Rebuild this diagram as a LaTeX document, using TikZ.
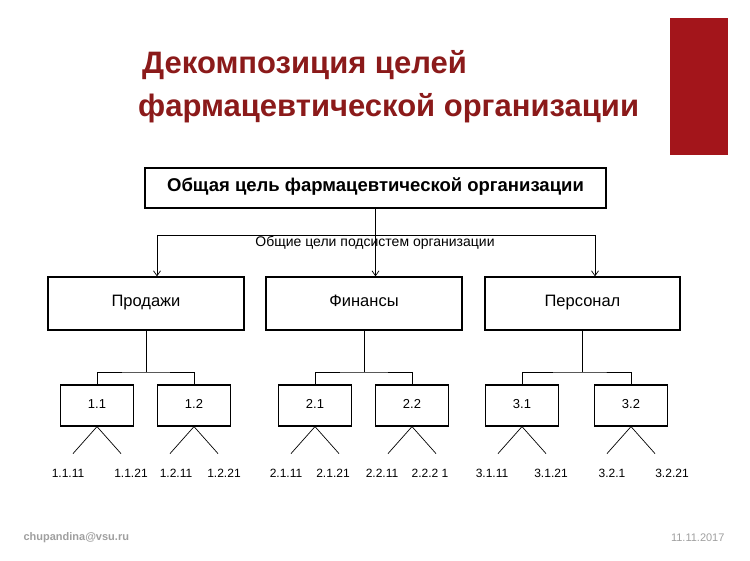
\documentclass[tikz,border=0pt]{standalone}
\usepackage{fontspec}
\setmainfont{Liberation Sans}
\usetikzlibrary{arrows.meta,calc}
\definecolor{dred}{HTML}{8B1A1A}
\definecolor{bred}{HTML}{A3151B}
\begin{document}
\begin{tikzpicture}[x=1pt,y=-1pt,
  box/.style={draw,line width=1.2pt,minimum width=#1,minimum height=0pt,inner sep=0pt,text height=1.5ex,text depth=0.25ex},
  ln/.style={line width=0.7pt},
  ar/.style={ln,-{Straight Barb[length=5pt,width=7pt]}},
  lab/.style={font=\fontsize{12}{14}\selectfont},
  ttl/.style={text=dred,font=\bfseries\fontsize{31}{37}\selectfont,anchor=west,inner sep=0pt},
  fnt/.style={font=\fontsize{16.5}{19}\selectfont}]
\useasboundingbox (0,0) rectangle (750,561);
\fill[bred] (670,18) rectangle (728,155);
\node[ttl] (t1) at (142,65) {Декомпозиция целей};
\node[ttl] (t2) at (138,108) {фармацевтической организации};
\node[box=461pt,minimum height=40pt,font=\bfseries\fontsize{18.5}{21}\selectfont] (top) at (375.5,188) {Общая цель фармацевтической организации};
\node[box=196pt,minimum height=53pt,fnt] (p) at (146,303.5) {Продажи};
\node[box=196pt,minimum height=53pt,fnt] (f) at (364,303.5) {Финансы};
\node[box=195pt,minimum height=53pt,fnt] (s) at (582.5,303.5) {Персонал};
\coordinate (hl) at (157,235); \coordinate (hr) at (595,235);
\draw[ar] (top.south) -- (top.south|-f.north);
\draw[ln] (hl) -- (hr);
\draw[ar] (hl) -- (hl|-p.north);
\draw[ar] (hr) -- (hr|-s.north);
\node[font=\fontsize{14}{16}\selectfont] (sub) at (375,243) {Общие цели подсистем организации};
\foreach \P/\a/\b/\an/\bn in {p/97/194/1.1/1.2, f/315/412/2.1/2.2, s/522/631/3.1/3.2}{
  \node[box=73pt,minimum height=41pt,font=\fontsize{13}{15}\selectfont] (\P a) at (\a,405.5) {\an};
  \node[box=73pt,minimum height=41pt,font=\fontsize{13}{15}\selectfont] (\P b) at (\b,405.5) {\bn};
  \coordinate (\P m) at (\P.south|-0,372);
  \draw[ln] (\P.south) -- (\P m);
  \draw[ln] (\P a.north) |- (\P m) -| (\P b.north);
  \foreach \q in {a,b}{
    \coordinate (\P\q l) at ($(\P\q.south)+(-24,27)$);
    \coordinate (\P\q r) at ($(\P\q.south)+(24,27)$);
    \draw[ln] (\P\q l) -- (\P\q.south) -- (\P\q r);
  }
}
\foreach \t/\x in {1.1.11/68,1.1.21/131,1.2.11/176,1.2.21/224,2.1.11/286,2.1.21/333,2.2.11/382,2.2.2 1/430,3.1.11/492,3.1.21/551,3.2.1/612,3.2.21/672}{
  \node[lab] at (\x,473) {\t};
}
\node[text=gray!75,font=\bfseries\fontsize{11}{13}\selectfont,anchor=west] (mail) at (20,538) {chupandina@vsu.ru};
\node[text=gray!75,font=\fontsize{11}{13}\selectfont,anchor=east] (date) at (728,538) {11.11.2017};
\end{tikzpicture}
\end{document}
